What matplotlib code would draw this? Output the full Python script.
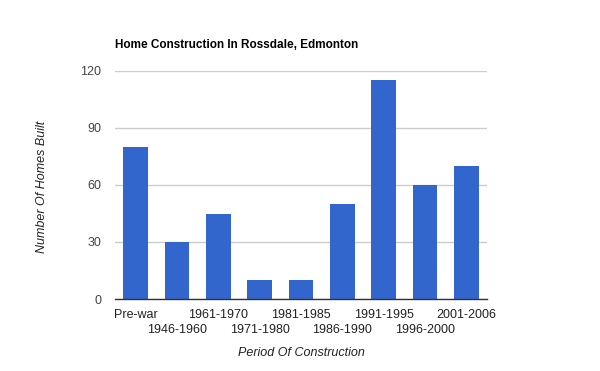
import matplotlib
matplotlib.use("Agg")
import matplotlib.pyplot as plt

categories = ["Pre-war", "1946-1960", "1961-1970", "1971-1980", "1981-1985",
              "1986-1990", "1991-1995", "1996-2000", "2001-2006"]
homes_built = [80, 30, 45, 10, 10, 50, 115, 60, 70]
y_ticks = [0, 30, 60, 90, 120]

plt.rcParams['font.family'] = ['Liberation Sans', 'DejaVu Sans']

fig = plt.figure(figsize=(6, 3.71), dpi=100)
ax = fig.add_axes([115/600, 72/371, 372/600, 228/371])

x = list(range(len(categories)))
ax.bar(x, homes_built, width=0.6, color="#3366cc", zorder=3)
ax.set_xlim(-0.5, len(categories) - 0.5)
ax.set_ylim(0, 120)
ax.set_yticks(y_ticks)
ax.set_yticklabels([str(v) for v in y_ticks], fontsize=9, color="#444444")
ax.grid(axis='y', color="#cccccc", linewidth=1, zorder=0)
ax.tick_params(axis='y', length=0, pad=10)

even = [i for i in x if i % 2 == 0]
odd = [i for i in x if i % 2 == 1]
ax.set_xticks(even)
ax.set_xticklabels([categories[i] for i in even], fontsize=9, color="#222222")
ax.set_xticks(odd, minor=True)
ax.set_xticklabels([categories[i] for i in odd], minor=True, fontsize=9, color="#222222")
ax.tick_params(axis='x', which='major', length=0, pad=7)
ax.tick_params(axis='x', which='minor', length=0, pad=18)

for s in ['top', 'right', 'left']:
    ax.spines[s].set_visible(False)
ax.spines['bottom'].set_color("#333333")
ax.spines['bottom'].set_linewidth(1)
ax.spines['bottom'].set_zorder(4)

fig.text(115/600, 1 - 45/371, "Home Construction In Rossdale, Edmonton",
         fontsize=8.5, fontweight='bold', color="#000000", va='center', ha='left')
fig.text(42/600, 1 - 187/371, "Number Of Homes Built", fontsize=9, style='italic',
         rotation=90, va='center', ha='center', color="#222222")
fig.text(301/600, 1 - 353/371, "Period Of Construction", fontsize=9, style='italic',
         va='center', ha='center', color="#222222")

fig.savefig("out.png", dpi=100)
